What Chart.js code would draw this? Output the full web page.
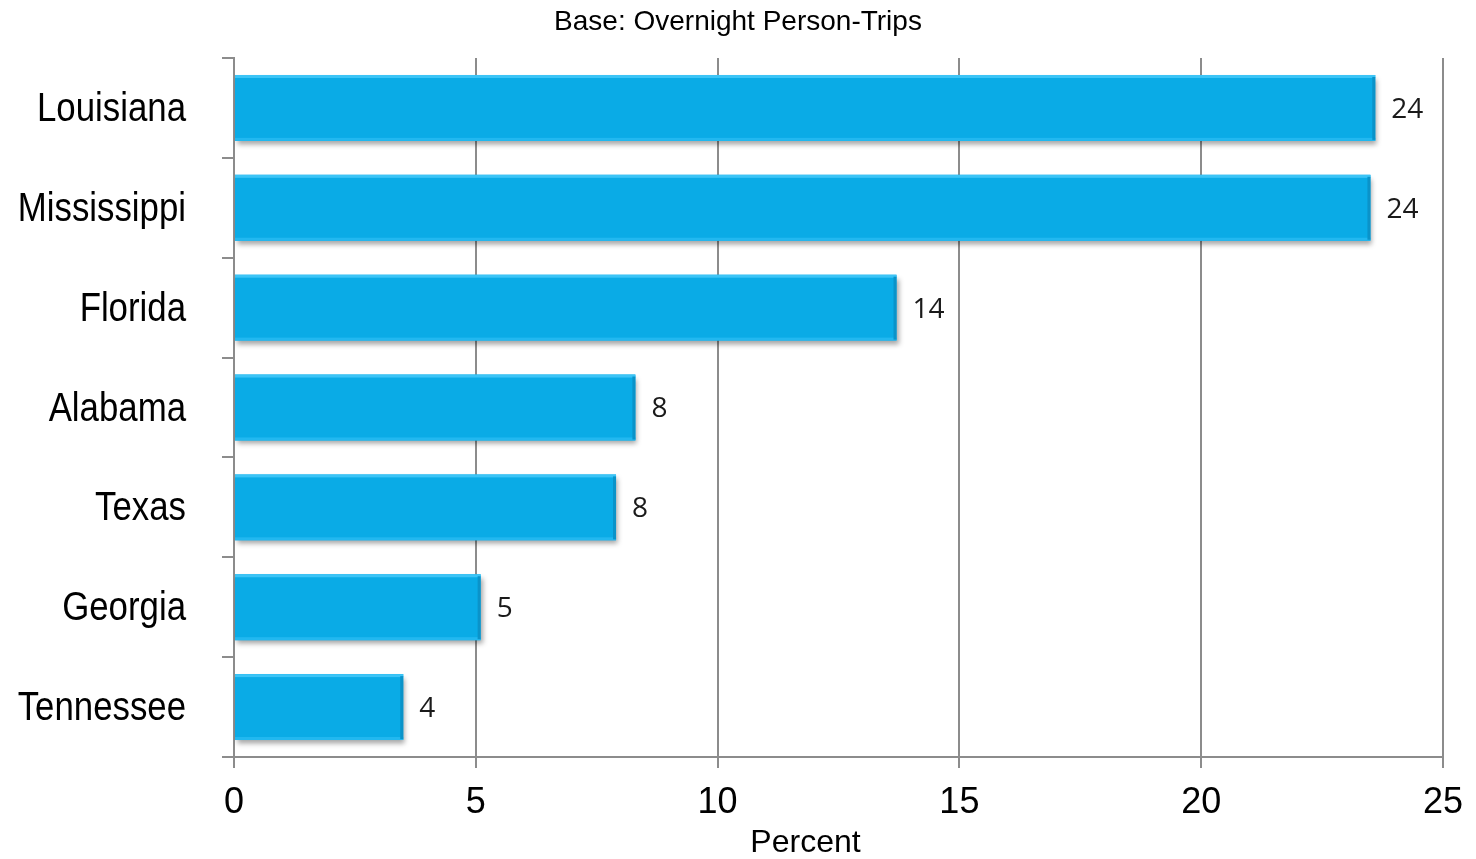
<!DOCTYPE html>
<html>
<head>
<meta charset="utf-8">
<title>Overnight Person-Trips by State</title>
<script src="https://cdn.jsdelivr.net/npm/chart.js@4.4.1/dist/chart.umd.min.js"></script>
<style>
  html, body { margin: 0; padding: 0; background: #ffffff; }
  #wrap { width: 1476px; height: 859px; }
</style>
</head>
<body>
<div id="wrap"><canvas id="chart" width="1476" height="859"></canvas></div>
<script>
// States of origin and their share of overnight person-trips (percent)
const categories = ['Louisiana', 'Mississippi', 'Florida', 'Alabama', 'Texas', 'Georgia', 'Tennessee'];
const shares = [23.6, 23.5, 13.7, 8.3, 7.9, 5.1, 3.5];
const percentTicks = [0, 5, 10, 15, 20, 25];

const chartTitle = 'Base: Overnight Person-Trips';
const axisTitle = 'Percent';

const GRID = '#8c8c8c';
const BAR = '#0aabe6';

// Subtitle on top, axis title under the ticks, and condensed state names
const headings = {
  id: 'headings',
  afterDraw(chart) {
    const { ctx, chartArea } = chart;
    ctx.save();
    ctx.fillStyle = '#000000';
    ctx.textAlign = 'center';
    ctx.textBaseline = 'middle';
    ctx.font = '28px "Liberation Sans", Arial, sans-serif';
    ctx.fillText(chartTitle, chart.width / 2, 22);
    ctx.font = '32px "Liberation Sans", Arial, sans-serif';
    ctx.fillText(axisTitle, (chartArea.left + chartArea.right) / 2 - 33, 843);

    // category names, squeezed horizontally like a narrow face
    const yScale = chart.scales.y;
    const right = chartArea.left - 48;
    ctx.font = '40px "Liberation Sans", Arial, sans-serif';
    ctx.textAlign = 'right';
    categories.forEach((name, i) => {
      const yy = yScale.getPixelForValue(i);
      ctx.save();
      ctx.translate(right, yy);
      ctx.scale(0.87, 1);
      ctx.fillText(name, 0, 2);
      ctx.restore();
    });
    ctx.restore();
  }
};

// Soft drop shadow under the bars, then bevelled edges and value labels
const barFinish = {
  id: 'barFinish',
  beforeDatasetsDraw(chart) {
    const ctx = chart.ctx;
    ctx.save();
    ctx.shadowColor = 'rgba(0,0,0,0.35)';
    ctx.shadowBlur = 5;
    ctx.shadowOffsetX = 2;
    ctx.shadowOffsetY = 4;
  },
  afterDatasetsDraw(chart) {
    const ctx = chart.ctx;
    ctx.restore();
    const meta = chart.getDatasetMeta(0);
    const data = chart.data.datasets[0].data;
    ctx.save();
    meta.data.forEach((bar, i) => {
      const { x, y, base, height } = bar.getProps(['x', 'y', 'base', 'height'], true);
      const top = y - height / 2;
      const w = x - base;
      ctx.fillStyle = '#3cc4f6';
      ctx.fillRect(base, top, w, 3);
      ctx.fillStyle = '#22b8f0';
      ctx.fillRect(base, top + height - 3, w, 3);
      ctx.fillStyle = '#0a93c9';
      ctx.fillRect(x - 3, top + 2, 3, height - 3);

      ctx.fillStyle = '#1a1a1a';
      ctx.font = '28px "Open Sans", "DejaVu Sans", sans-serif';
      ctx.textAlign = 'left';
      ctx.textBaseline = 'middle';
      ctx.fillText(String(Math.round(data[i])), x + 16, y + 2);
    });
    ctx.restore();
  }
};

new Chart(document.getElementById('chart'), {
  type: 'bar',
  data: {
    labels: categories,
    datasets: [{
      data: shares,
      backgroundColor: BAR,
      borderWidth: 0,
      barPercentage: 0.66,
      categoryPercentage: 1.0
    }]
  },
  options: {
    indexAxis: 'y',
    responsive: false,
    animation: false,
    layout: { padding: { left: 0, top: 58, right: 31, bottom: 0 } },
    plugins: {
      legend: { display: false },
      title: { display: false },
      tooltip: { enabled: false }
    },
    scales: {
      x: {
        type: 'linear',
        min: percentTicks[0],
        max: percentTicks[percentTicks.length - 1],
        afterBuildTicks(scale) {
          scale.ticks = percentTicks.map(v => ({ value: v }));
        },
        afterFit(scale) { scale.height = 102; },
        grid: {
          color: GRID,
          lineWidth: 2,
          drawTicks: true,
          tickLength: 11,
          drawOnChartArea: true
        },
        border: { display: true, color: GRID, width: 2 },
        ticks: {
          color: '#000000',
          padding: 13,
          font: { family: '"Liberation Sans", Arial, sans-serif', size: 36 }
        }
      },
      y: {
        type: 'category',
        afterFit(scale) { scale.width = 234; },
        grid: {
          color: GRID,
          lineWidth: 2,
          offset: true,
          drawOnChartArea: false,
          drawTicks: true,
          tickLength: 12
        },
        border: { display: true, color: GRID, width: 2 },
        ticks: { display: false }
      }
    }
  },
  plugins: [barFinish, headings]
});
</script>
</body>
</html>
